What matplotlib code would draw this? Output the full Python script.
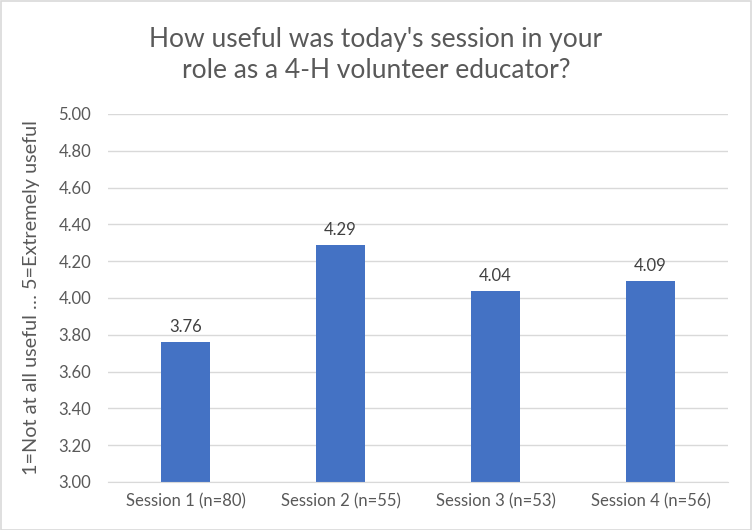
import matplotlib.pyplot as plt
import numpy as np

sessions = ["Session 1 (n=80)", "Session 2 (n=55)", "Session 3 (n=53)", "Session 4 (n=56)"]
scores = [3.76, 4.29, 4.04, 4.09]
yticks = [3.00, 3.20, 3.40, 3.60, 3.80, 4.00, 4.20, 4.40, 4.60, 4.80, 5.00]

plt.rcParams['font.family'] = ['Lato', 'DejaVu Sans']

W, H = 752, 530
fig = plt.figure(figsize=(W / 100, H / 100), dpi=100)
fig.patch.set_facecolor('white')

# plot area in pixels: left 108, right 728, top 114, bottom 482
ax = fig.add_axes([108 / W, 1 - 482 / H, 620 / W, 368 / H])

x = np.arange(len(sessions))
bars = ax.bar(x, scores, width=0.32, color='#4472c4', zorder=3)
for xi, v in zip(x, scores):
    ax.annotate(f"{v:.2f}", (xi, v), xytext=(0, 5), textcoords='offset points',
                ha='center', va='bottom', fontsize=12, color='#404040')

ax.set_xlim(-0.5, len(sessions) - 0.5)
ax.set_ylim(3.0, 5.0)
ax.set_yticks(yticks)
ax.set_yticklabels([f"{t:.2f}" for t in yticks])
ax.set_xticks(x)
ax.set_xticklabels(sessions)
ax.tick_params(axis='both', length=0, labelsize=12, colors='#595959')
ax.tick_params(axis='y', pad=12)
ax.tick_params(axis='x', pad=8)
ax.grid(axis='y', color='#d9d9d9', linewidth=1, zorder=0)
for s in ['top', 'right', 'left']:
    ax.spines[s].set_visible(False)
ax.spines['bottom'].set_color('#d9d9d9')
ax.spines['bottom'].set_zorder(4)

ax.set_ylabel("1=Not at all useful … 5=Extremely useful", fontsize=14.3, color='#595959')
ax.yaxis.set_label_coords((40 - 108) / 620, 0.5)

fig.text(376 / W, 1 - 55 / H, "How useful was today's session in your\nrole as a 4-H volunteer educator?",
         ha='center', va='center', fontsize=19, color='#595959', linespacing=1.3)

# light border around the chart
fig.add_artist(plt.Rectangle((0.5 / W, 0.5 / H), 1 - 1.5 / W, 1 - 1.5 / H,
                             transform=fig.transFigure, fill=False, edgecolor='#d9d9d9', linewidth=1.2))

fig.savefig('out.png', dpi=100)
